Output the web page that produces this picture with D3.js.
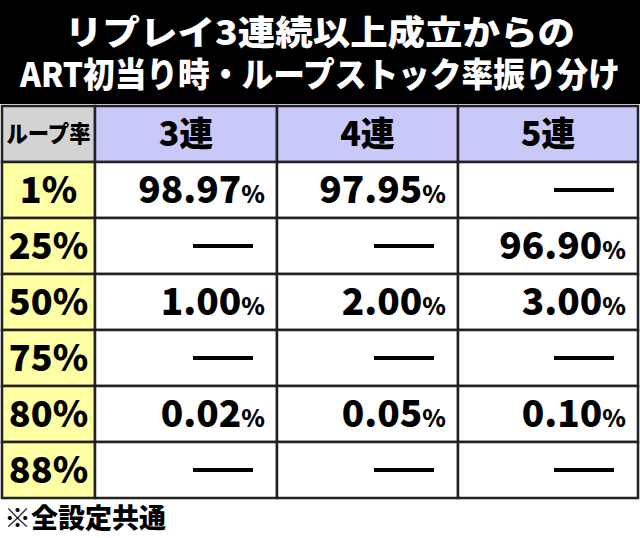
<!DOCTYPE html><html><head><meta charset="utf-8">
<script src="https://cdn.jsdelivr.net/npm/d3@7"></script>
<style>body{margin:0;background:#fff}</style></head><body>
<script>
const titleLines=["リプレイ3連続以上成立からの","ART初当り時・ループストック率振り分け"];
const columns=["3連","4連","5連"];
const rowsLabels=["1%","25%","50%","75%","80%","88%"];
const v3=["98.97","—","1.00","—","0.02","—"];
const v4=["97.95","—","2.00","—","0.05","—"];
const v5=["—","96.90","3.00","—","0.10","—"];
const corner="ループ率", note="※全設定共通";
const W=640,H=538,F="'Noto Sans CJK JP',sans-serif";
const svg=d3.select("body").append("svg").attr("width",W).attr("height",H);
svg.append("rect").attr("width",W).attr("height",104).attr("fill","#000");
titleLines.forEach((t,i)=>svg.append("text").text(t).attr("x",W/2).attr("y",45+i*42).attr("text-anchor","middle")
 .attr("fill","#fff").attr("font-family",F).attr("font-weight",900).attr("font-size",34).attr("textLength",i?600:510).attr("lengthAdjust","spacingAndGlyphs"));
const xs=[2,95,277,458,638];
const y=d3.scaleBand().domain(["h",...rowsLabels]).range([106,498]);
const vals=[v3,v4,v5];
const g=svg.append("g");
["h",...rowsLabels].forEach((r,ri)=>{
 for(let c=0;c<4;c++){
  let fill="#fff";
  if(ri==0) fill=c==0?"#d3d3d3":"#c9c9f9"; else if(c==0) fill="#ffffa3";
  g.append("rect").attr("x",xs[c]).attr("y",y(r)).attr("width",xs[c+1]-xs[c]).attr("height",y.bandwidth())
   .attr("fill",fill).attr("stroke","#222").attr("stroke-width",2.5);
  const cy=y(r)+y.bandwidth()/2;
  if(ri==0){
   g.append("text").text(c==0?corner:columns[c-1]).attr("x",(xs[c]+xs[c+1])/2).attr("y",cy+(c==0?8:12))
    .attr("text-anchor","middle").attr("font-family",F).attr("font-weight",900).attr("font-size",c==0?23:34)
    .attr("textLength",c==0?84:null).attr("lengthAdjust","spacingAndGlyphs");
  } else if(c==0){
   g.append("text").text(r).attr("x",(xs[0]+xs[1])/2).attr("y",cy+13).attr("text-anchor","middle")
    .attr("font-family",F).attr("font-weight",900).attr("font-size",36);
  } else {
   const v=vals[c-1][ri-1];
   if(v=="—"){
    g.append("rect").attr("x",xs[c+1]-84).attr("y",cy-2).attr("width",60).attr("height",4).attr("fill","#000");
   } else {
    const t=g.append("text").attr("x",xs[c+1]-12).attr("y",cy+13).attr("text-anchor","end").attr("font-family",F).attr("font-weight",900);
    t.append("tspan").text(v).attr("font-size",37);
    t.append("tspan").text("%").attr("font-size",24);
   }
  }
 }
});
svg.append("text").text(note).attr("x",4).attr("y",528).attr("font-family",F).attr("font-weight",900).attr("font-size",27);
</script></body></html>
